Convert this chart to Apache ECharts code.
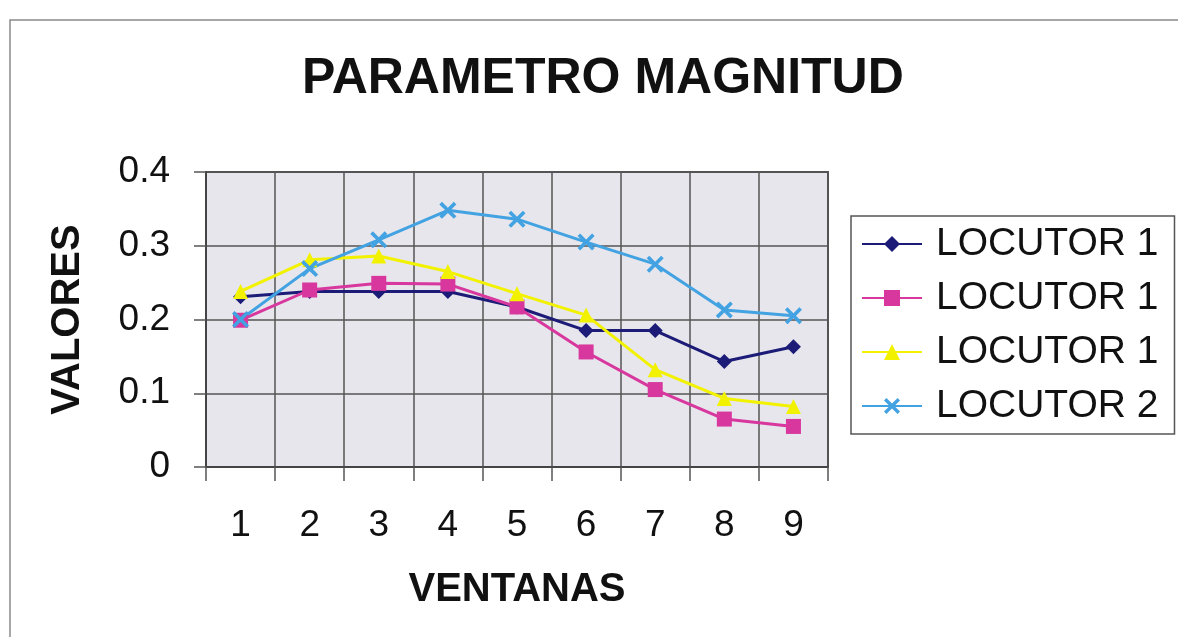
<!DOCTYPE html>
<html>
<head>
<meta charset="utf-8">
<script src="https://cdn.jsdelivr.net/npm/echarts@6/dist/echarts.min.js"></script>
<style>
  html, body { margin: 0; padding: 0; background: #fff; }
  #chart { width: 1178px; height: 637px; }
</style>
</head>
<body>
<div id="chart"></div>
<script>
// datos
const ventanas = ['1', '2', '3', '4', '5', '6', '7', '8', '9']
const locutor1a = [0.231, 0.238, 0.238, 0.238, 0.217, 0.185, 0.185, 0.143, 0.163]
const locutor1b = [0.199, 0.240, 0.249, 0.248, 0.217, 0.156, 0.105, 0.065, 0.055]
const locutor1c = [0.238, 0.281, 0.286, 0.265, 0.235, 0.206, 0.132, 0.093, 0.082]
const locutor2 = [0.200, 0.269, 0.308, 0.348, 0.336, 0.305, 0.275, 0.213, 0.205]
const seriesKeys = ['s1', 's2', 's3', 's4']
const legendLabels = ['LOCUTOR 1', 'LOCUTOR 1', 'LOCUTOR 1', 'LOCUTOR 2']

const FONT = '"Liberation Sans", Arial, sans-serif'
const xMark = 'path://M0,1.5L1.5,0L5,3.5L8.5,0L10,1.5L6.5,5L10,8.5L8.5,10L5,6.5L1.5,10L0,8.5L3.5,5Z'

function makeSeries(key, data, color, symbol, size) {
  return {
    name: key,
    type: 'line',
    data: data,
    symbol: symbol,
    symbolSize: size,
    lineStyle: { color: color, width: 3 },
    itemStyle: { color: color },
    emphasis: { disabled: true }
  }
}

const chart = echarts.init(document.getElementById('chart'))

chart.setOption({
  animation: false,
  backgroundColor: '#fff',
  textStyle: { fontFamily: FONT },
  title: {
    text: 'PARAMETRO MAGNITUD',
    left: 302,
    top: 54,
    padding: 0,
    textStyle: { fontFamily: FONT, fontSize: 50, fontWeight: 'bold', color: '#111' }
  },
  graphic: [
    {
      type: 'rect',
      shape: { x: 10, y: 20, width: 1200, height: 660 },
      style: { fill: 'none', stroke: '#8a8a8a', lineWidth: 1.5 },
      silent: true,
      z: -1
    }
  ],
  legend: {
    orient: 'vertical',
    left: 851,
    top: 216,
    padding: [8, 16, 8, 10],
    backgroundColor: '#fff',
    borderColor: '#555',
    borderWidth: 1.5,
    itemWidth: 60,
    itemHeight: 20,
    itemGap: 14,
    selectedMode: false,
    data: seriesKeys,
    formatter: function (name) {
      return legendLabels[seriesKeys.indexOf(name)]
    },
    textStyle: {
      fontFamily: FONT,
      fontSize: 39,
      lineHeight: 40,
      color: '#111',
      padding: [0, 0, 0, 9]
    }
  },
  grid: {
    left: 206,
    right: 350,
    top: 172,
    bottom: 170,
    show: true,
    backgroundColor: '#e6e6ec',
    borderColor: '#555',
    borderWidth: 2
  },
  xAxis: {
    type: 'category',
    data: ventanas,
    boundaryGap: true,
    name: 'VENTANAS',
    nameLocation: 'middle',
    nameGap: 103,
    nameTextStyle: { fontFamily: FONT, fontSize: 40, fontWeight: 'bold', color: '#111' },
    axisLine: { lineStyle: { color: '#444', width: 2 } },
    axisTick: { show: true, length: 14, inside: false, lineStyle: { color: '#555', width: 1.5 } },
    axisLabel: { fontFamily: FONT, fontSize: 37, color: '#111', margin: 40 },
    splitLine: { show: true, interval: 0, lineStyle: { color: '#555', width: 1.5 } }
  },
  yAxis: {
    type: 'value',
    min: 0,
    max: 0.4,
    interval: 0.1,
    name: 'VALORES',
    nameLocation: 'middle',
    nameGap: 118,
    nameTextStyle: { fontFamily: FONT, fontSize: 40, fontWeight: 'bold', color: '#111' },
    axisLine: { show: true, lineStyle: { color: '#444', width: 2 } },
    axisTick: { show: true, length: 12, inside: false, lineStyle: { color: '#555', width: 1.5 } },
    axisLabel: { fontFamily: FONT, fontSize: 37, color: '#111', margin: 36 },
    splitLine: { show: true, lineStyle: { color: '#555', width: 1.5 } }
  },
  series: [
    makeSeries('s1', locutor1a, '#1c1c78', 'diamond', 15),
    makeSeries('s2', locutor1b, '#d8379e', 'rect', 15),
    makeSeries('s3', locutor1c, '#f2f200', 'triangle', 15),
    makeSeries('s4', locutor2, '#42a2e2', xMark, 17)
  ]
})
</script>
</body>
</html>
